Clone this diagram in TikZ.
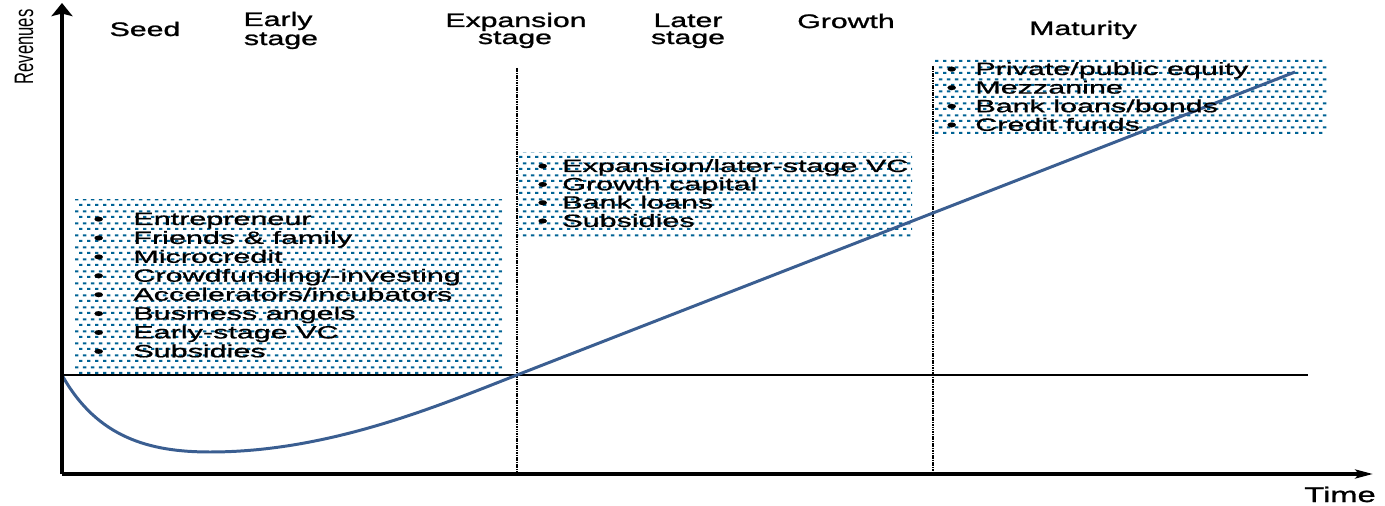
\documentclass[tikz,border=0pt]{standalone}
\usepackage{fontspec}
\setmainfont{Liberation Sans}
\newfontfamily\hdfont[FakeStretch=1.55, FakeBold=1.2]{Liberation Sans}
\newfontfamily\lsfont[FakeStretch=1.72, FakeBold=0.8]{Liberation Sans}
\usetikzlibrary{patterns.meta, arrows.meta}
\definecolor{dotblue}{RGB}{0,98,148}
\definecolor{curveblue}{RGB}{58,94,145}
\tikzdeclarepattern{
  name=bluedots,
  type=uncolored,
  bounding box={(0pt,0pt) and (4.55pt,6.83pt)},
  tile size={(4.55pt,6.83pt)},
  code={
    \pgfpathrectangle{\pgfpoint{0pt}{0pt}}{\pgfpoint{1.9pt}{1.25pt}}
    \pgfpathrectangle{\pgfpoint{2.275pt}{3.415pt}}{\pgfpoint{1.9pt}{1.25pt}}
    \pgfusepath{fill}
  }
}
\tikzset{
  dotbox/.style={pattern=bluedots, pattern color=dotblue},
  axis/.style={line width=2pt},
  vdash/.style={line width=1.1pt, dash pattern=on 0.9pt off 0.45pt},
  lst/.style={inner sep=0pt, anchor=base west, font=\lsfont\fontsize{10.1}{11}\selectfont},
  hdr/.style={inner sep=0pt, anchor=base, font=\hdfont\fontsize{11.1}{13}\selectfont},
  curve/.style={draw=curveblue, line width=1.7pt}
}
\begin{document}
\begin{tikzpicture}[x=0.02cm, y=-0.02cm]
\useasboundingbox (0,0) rectangle (1385,506);
% dotted boxes
\fill[dotbox] (75,200) rectangle (502,375);
\fill[dotbox] (518,153) rectangle (912,238);
\fill[dotbox] (935,59) rectangle (1327,137);
% coordinates
\coordinate (O) at (62,474);
\coordinate (ytip) at (62,3);
\coordinate (xtip) at (1373,474);
\coordinate (b0) at (62,375);
\coordinate (b1) at (1308,375);
\coordinate (v1t) at (517,68);
\coordinate (v1b) at (517,474);
\coordinate (v2t) at (933,66);
\coordinate (v2b) at (933,474);
% lines
\draw[line width=0.9pt] (b0) -- (b1);
\draw[vdash] (v1t) -- (v1b);
\draw[vdash] (v2t) -- (v2b);
\draw[curve] (b0) .. controls (97,438) and (150,452) .. (210,452)
  .. controls (330,452) and (440,405) .. (517,375) -- (1295,72);
\draw[axis, -{Stealth[length=7.5pt, width=12pt, inset=1.5pt]}] (O) -- (ytip);
\draw[axis, -{Stealth[length=10pt, width=5pt, inset=2pt]}] (O) -- (xtip);
% axis labels
\node[inner sep=0pt] (rev) at (24,47) {\scalebox{1.6}[1]{\rotatebox{90}{\fontsize{9.5}{11}\selectfont Revenues}}};
% headers
\node[hdr] (seed) at (145,36) {Seed};
\node[hdr] (early) at (278,26) {Early};
\node[hdr] (early2) at (281,45) {stage};
\node[hdr] (exp) at (516,27) {Expansion};
\node[hdr] (exp2) at (515,44) {stage};
\node[hdr] (later) at (688,27) {Later};
\node[hdr] (later2) at (688,44) {stage};
\node[hdr] (growth) at (846,28) {Growth};
\node[hdr] (mat) at (1083,35) {Maturity};
\node[hdr, font=\hdfont\fontsize{12}{14}\selectfont] (timelbl) at (1340,502) {Time};
% list 1
\foreach \i/\t in {0/Entrepreneur, 1/{Friends \& family}, 2/Microcredit, 3/{Crowdfunding/-investing}, 4/{Accelerators/incubators}, 5/{Business angels}, 6/{Early-stage VC}, 7/Subsidies}
  \node[lst] (a\i) at (93,{225+18.9*\i}) {\makebox[22.8pt][l]{\textbullet}\t};
% list 2
\foreach \i/\t in {0/{Expansion/later-stage VC}, 1/{Growth capital}, 2/{Bank loans}, 3/Subsidies}
  \node[lst] (b\i) at (537,{172+18.3*\i}) {\makebox[14.2pt][l]{\textbullet}\t};
% list 3
\foreach \i/\t in {0/{Private/public equity}, 1/Mezzanine, 2/{Bank loans/bonds}, 3/{Credit funds}}
  \node[lst] (c\i) at (946,{75+18.6*\i}) {\makebox[16.5pt][l]{\textbullet}\t};
\end{tikzpicture}
\end{document}
